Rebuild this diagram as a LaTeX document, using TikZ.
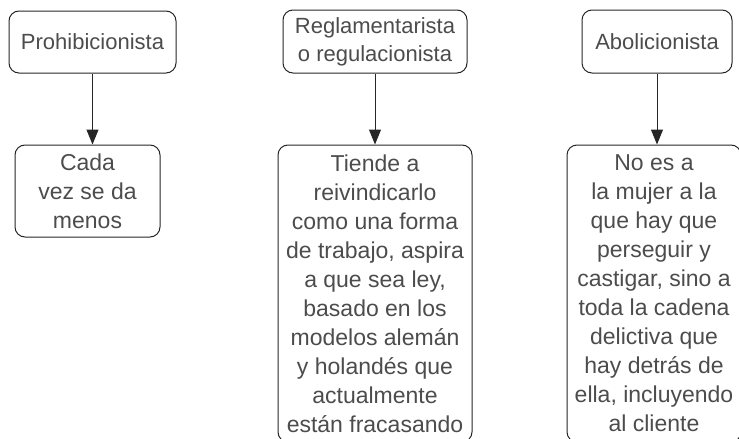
\documentclass[tikz,border=0pt]{standalone}
\usepackage{fontspec}
\setmainfont{Liberation Sans}
\usetikzlibrary{arrows.meta}

\begin{document}
\begin{tikzpicture}[x=1pt, y=-1pt,
  box/.style={draw=black!85, line width=1pt, rounded corners=10pt, align=center, text=black!70, inner sep=0pt},
  head/.style={box, font=\fontsize{22}{28}\selectfont},
  body/.style={box, font=\fontsize{23}{29}\selectfont},
  link/.style={line width=1pt, black!85, -{Triangle[length=15pt,width=12pt]}}]
\useasboundingbox (0,0) rectangle (739,439);
\clip (0,0) rectangle (739,439);
% top row
\node[head, minimum width=167pt, minimum height=62pt] (prohib) at (92.5,42) {Prohibicionista};
\node[head, minimum width=184pt, minimum height=63pt] (regla) at (375,41.5) {Reglamentarista\\o regulacionista};
\node[head, minimum width=150pt, minimum height=63pt] (abol) at (657,41.5) {Abolicionista};
% bottom row
\node[body, minimum width=145pt, minimum height=92pt] (menos) at (87.5,191) {Cada\\vez se da\\menos};
\node[body, minimum width=194pt, minimum height=297pt] (trabajo) at (375,293.5)
  {Tiende a\\reivindicarlo\\como una forma\\de trabajo, aspira\\a que sea ley,\\basado en los\\modelos alemán\\y holandés que\\actualmente\\están fracasando};
\node[body, minimum width=174pt, minimum height=297pt] (cliente) at (654,293.5)
  {No es a\\la mujer a la\\que hay que\\perseguir y\\castigar, sino a\\toda la cadena\\delictiva que\\hay detrás de\\ella, incluyendo\\al cliente};
% arrows
\draw[link] (prohib.south) -- (prohib.south |- menos.north);
\draw[link] (regla.south) -- (regla.south |- trabajo.north);
\draw[link] (abol.south) -- (abol.south |- cliente.north);
\end{tikzpicture}
\end{document}
